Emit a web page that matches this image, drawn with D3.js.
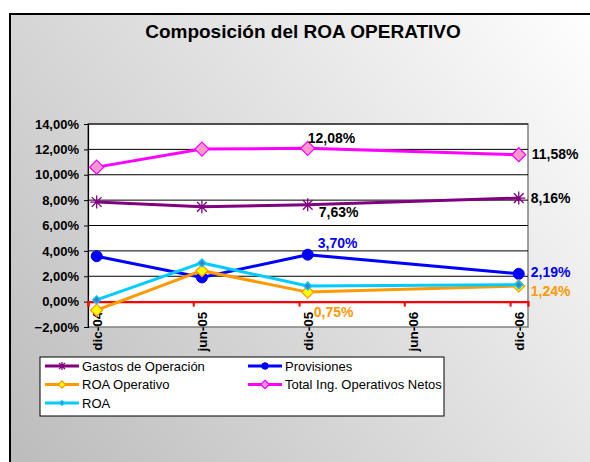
<!DOCTYPE html>
<html>
<head>
<meta charset="utf-8">
<script src="https://cdn.jsdelivr.net/npm/d3@7"></script>
<style>
  body { margin: 0; background: #fff; }
  text { font-family: Arial, "Liberation Sans", sans-serif; }
</style>
</head>
<body>
<div id="chart"></div>
<script>
// data (percent)
var pointDates = ["dic-04", "jun-05", "dic-05", "dic-06"]
var tickLabels = ["dic-04", "jun-05", "dic-05", "jun-06", "dic-06"]
var yTicks = [-2, 0, 2, 4, 6, 8, 10, 12, 14]

var gastos = [7.85, 7.47, 7.63, 8.16]
var provisiones = [3.58, 1.91, 3.70, 2.19]
var roaOperativo = [-0.67, 2.44, 0.75, 1.24]
var totalIng = [10.60, 12.02, 12.08, 11.58]
var roa = [0.14, 3.05, 1.23, 1.33]

var width = 590, height = 462

// month label -> date (first of month)
var monthNames = {ene:0, feb:1, mar:2, abr:3, may:4, jun:5, jul:6, ago:7, sep:8, oct:9, nov:10, dic:11}
function toDate(lbl) {
  var p = lbl.split("-")
  return new Date(2000 + (+p[1]), monthNames[p[0]], 1)
}
function midMonth(lbl) {
  var d = toDate(lbl)
  return new Date(d.getFullYear(), d.getMonth(), 16)
}

var locale = d3.formatLocale({decimal: ",", thousands: ".", grouping: [3], currency: ["", ""]})
var fmt = locale.format(".2f")
var pct = function(v) { return fmt(v) + "%" }

var svg = d3.select("#chart").append("svg")
  .attr("width", width)
  .attr("height", height)

// background gradient, light at top right, grey at bottom left
var defs = svg.append("defs")
var grad = defs.append("linearGradient")
  .attr("id", "bg")
  .attr("gradientUnits", "userSpaceOnUse")
  .attr("x1", 590).attr("y1", 0)
  .attr("x2", 10).attr("y2", 462)
grad.append("stop").attr("offset", "0%").attr("stop-color", "#ffffff")
grad.append("stop").attr("offset", "100%").attr("stop-color", "#bcbcbc")

svg.append("rect")
  .attr("x", 0).attr("y", 0).attr("width", width).attr("height", height)
  .attr("fill", "#fff")
svg.append("rect")
  .attr("x", 10).attr("y", 14).attr("width", 600).attr("height", 470)
  .attr("fill", "url(#bg)")
  .attr("stroke", "#000")
  .attr("stroke-width", 2)

svg.append("text")
  .attr("x", 303).attr("y", 38)
  .attr("text-anchor", "middle")
  .style("font-weight", "bold")
  .style("font-size", "19px")
  .text("Composición del ROA OPERATIVO")

// scales
var x = d3.scaleTime()
  .domain([toDate("dic-04"), new Date(2007, 0, 1)])
  .range([88, 528])
var y = d3.scaleLinear()
  .domain([-2, 14])
  .range([327, 124])

// plot area
svg.append("rect")
  .attr("x", x.range()[0]).attr("y", y(14))
  .attr("width", x.range()[1] - x.range()[0])
  .attr("height", y(-2) - y(14))
  .attr("fill", "#fff")
  .attr("stroke", "#808080")
  .attr("stroke-width", 1.5)

// gridlines
svg.append("g")
  .selectAll("line")
  .data(yTicks.filter(function(d) { return d > 0 }))
  .enter()
  .append("line")
  .attr("x1", x.range()[0]).attr("x2", x.range()[1])
  .attr("y1", function(d) { return y(d) }).attr("y2", function(d) { return y(d) })
  .attr("stroke", "#000")
  .attr("stroke-width", 1)

// y axis
var yAxis = svg.append("g")
  .attr("transform", "translate(88,0)")
  .call(d3.axisLeft(y).tickValues(yTicks).tickSize(4).tickPadding(5).tickFormat(pct))
yAxis.select(".domain").attr("stroke", "#000").attr("stroke-width", 1.2)
yAxis.selectAll("text")
  .style("font-family", "Arial, 'Liberation Sans', sans-serif")
  .style("font-size", "13px")
  .style("font-weight", "bold")
  .attr("fill", "#000")

// x axis on zero line (red)
var xAxis = svg.append("g")
  .attr("transform", "translate(0," + y(0) + ")")
  .call(d3.axisBottom(x).tickValues(tickLabels.map(toDate)).tickSize(5).tickFormat(""))
xAxis.select(".domain").attr("stroke", "#ff0000").attr("stroke-width", 2.2)
xAxis.selectAll(".tick line").attr("stroke", "#ff0000").attr("stroke-width", 2)

svg.append("g")
  .selectAll("text")
  .data(tickLabels)
  .enter()
  .append("text")
  .attr("transform", function(d) { return "translate(" + x(midMonth(d)) + "," + (y(0) + 10) + ") rotate(-90)" })
  .attr("text-anchor", "end")
  .attr("dy", "0.36em")
  .style("font-size", "13.5px")
  .style("font-weight", "bold")
  .text(function(d) { return d })

// series
var series = [
  {name: "Gastos de Operación", values: gastos, color: "#800080", marker: "star", fill: "#800080"},
  {name: "Provisiones", values: provisiones, color: "#0000ff", marker: "circle", fill: "#0000ff"},
  {name: "ROA Operativo", values: roaOperativo, color: "#ff9900", marker: "diamond", fill: "#ffff00"},
  {name: "Total Ing. Operativos Netos", values: totalIng, color: "#ff00ff", marker: "diamond", fill: "#ff99cc"},
  {name: "ROA", values: roa, color: "#00ccff", marker: "smalldiamond", fill: "#3f7fd0"}
]

var line = d3.line()
  .x(function(d, i) { return x(midMonth(pointDates[i])) })
  .y(function(d) { return y(d) })

function drawMarker(g, s, cx, cy, scale) {
  scale = scale || 1
  if (s.marker == "star") {
    var r = 6.5 * scale
    var st = g.append("g").attr("transform", "translate(" + cx + "," + cy + ")")
    st.append("path")
      .attr("d", "M" + (-r) + ",0H" + r + "M0," + (-r) + "V" + r +
        "M" + (-r * 0.75) + "," + (-r * 0.75) + "L" + (r * 0.75) + "," + (r * 0.75) +
        "M" + (-r * 0.75) + "," + (r * 0.75) + "L" + (r * 0.75) + "," + (-r * 0.75))
      .attr("stroke", s.color).attr("stroke-width", 1.3).attr("fill", "none")
  } else if (s.marker == "circle") {
    g.append("circle").attr("cx", cx).attr("cy", cy).attr("r", 5.5 * scale)
      .attr("fill", s.fill).attr("stroke", s.color)
  } else {
    var h = (s.marker == "smalldiamond" ? 4 : (s.name == "ROA Operativo" ? 6 : 7)) * scale
    g.append("path")
      .attr("d", "M" + cx + "," + (cy - h) + "L" + (cx + h) + "," + cy + "L" + cx + "," + (cy + h) + "L" + (cx - h) + "," + cy + "Z")
      .attr("fill", s.fill)
      .attr("stroke", s.marker == "smalldiamond" ? "#00ccff" : s.color)
      .attr("stroke-width", 1.3)
  }
}

series.forEach(function(s) {
  var g = svg.append("g")
  g.append("path")
    .datum(s.values)
    .attr("d", line)
    .attr("fill", "none")
    .attr("stroke", s.color)
    .attr("stroke-width", 3)
  s.values.forEach(function(v, i) {
    drawMarker(g, s, x(midMonth(pointDates[i])), y(v))
  })
})

// data labels (series index, point index, color, offsets)
var labels = [
  {s: 3, i: 2, color: "#000", dx: 0, dy: -10},
  {s: 3, i: 3, color: "#000", dx: 13, dy: -1},
  {s: 0, i: 2, color: "#000", dx: 11, dy: 7},
  {s: 0, i: 3, color: "#000", dx: 12, dy: 0},
  {s: 1, i: 2, color: "#0000ff", dx: 10, dy: -12},
  {s: 1, i: 3, color: "#0000ff", dx: 12, dy: -2},
  {s: 2, i: 2, color: "#ff9900", dx: 6, dy: 20},
  {s: 2, i: 3, color: "#ff9900", dx: 12, dy: 5}
]
svg.append("g")
  .selectAll("text")
  .data(labels)
  .enter()
  .append("text")
  .attr("x", function(d) { return x(midMonth(pointDates[d.i])) + d.dx })
  .attr("y", function(d) { return y(series[d.s].values[d.i]) + d.dy })
  .attr("dy", "0.36em")
  .attr("fill", function(d) { return d.color })
  .style("font-size", "14px")
  .style("font-weight", "bold")
  .text(function(d) { return pct(series[d.s].values[d.i]) })

// legend
var legend = svg.append("g")
legend.append("rect")
  .attr("x", 40).attr("y", 357).attr("width", 404).attr("height", 59)
  .attr("fill", "#fff").attr("stroke", "#000").attr("stroke-width", 1)

var legendPos = [[45, 366], [248, 366], [45, 384.5], [248, 384.5], [45, 403]]
series.forEach(function(s, k) {
  var p = legendPos[k]
  var g = legend.append("g")
  g.append("line")
    .attr("x1", p[0]).attr("x2", p[0] + 34)
    .attr("y1", p[1]).attr("y2", p[1])
    .attr("stroke", s.color).attr("stroke-width", 3)
  drawMarker(g, s, p[0] + 17, p[1], 0.6)
  g.append("text")
    .attr("x", p[0] + 37).attr("y", p[1])
    .attr("dy", "0.36em")
    .style("font-size", "13px")
    .text(s.name)
})
</script>
</body>
</html>
